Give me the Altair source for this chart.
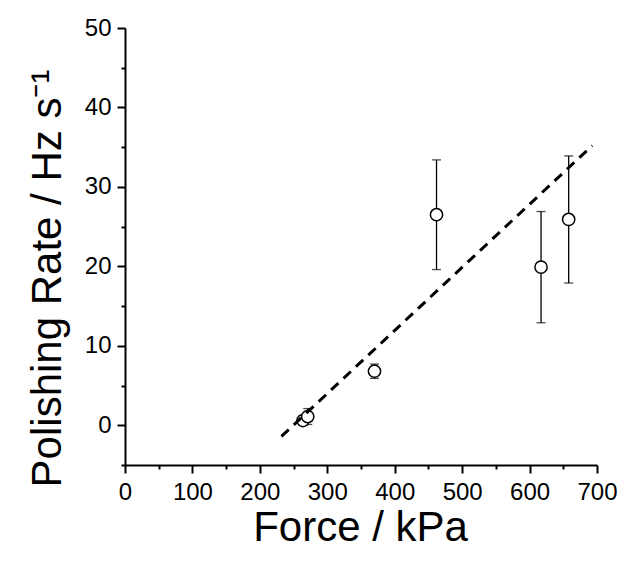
import altair as alt
import pandas as pd

# data
force = [264, 271, 370, 462, 617, 658]
rate = [0.6, 1.1, 6.8, 26.5, 19.9, 25.9]
err = [0.6, 1.0, 0.9, 6.9, 7.0, 8.0]

fit_x = [232, 693]
fit_y = [-1.4, 35.2]

x_major = [0, 100, 200, 300, 400, 500, 600, 700]
x_minor = [50, 150, 250, 350, 450, 550, 650]
y_major = [0, 10, 20, 30, 40, 50]
y_minor = [-5, 5, 15, 25, 35, 45]

df = pd.DataFrame({"force": force, "rate": rate, "err": err})
df["lo"] = df["rate"] - df["err"]
df["hi"] = df["rate"] + df["err"]
fit = pd.DataFrame({"x": fit_x, "y": fit_y})

FONT = "Liberation Sans"
xs = alt.Scale(domain=[0, 700], nice=False, zero=False)
ys = alt.Scale(domain=[-5, 50], nice=False, zero=False)

x_axis = alt.Axis(values=x_major, orient="bottom", title="Force / kPa", grid=False,
                  domainColor="black", domainWidth=2, tickColor="black", tickWidth=2,
                  tickSize=8, labelFont=FONT, labelFontSize=24, labelColor="black",
                  labelPadding=7, labelFlush=False, labelOverlap=False,
                  titleFont=FONT, titleFontSize=42, titleFontWeight="normal", titleColor="black",
                  titleX=235, titleY=84, titleBaseline="bottom", titleAlign="center")
y_axis = alt.Axis(values=y_major, orient="left", title="Polishing Rate / Hz s\u207b\u00b9", grid=False,
                  domainColor="black", domainWidth=2, tickColor="black", tickWidth=2,
                  tickSize=8, labelFont=FONT, labelFontSize=24, labelColor="black",
                  labelPadding=6, labelFlush=False, labelOverlap=False,
                  titleFont=FONT, titleFontSize=42, titleFontWeight="normal", titleColor="black",
                  titleX=-65, titleY=250, titleAngle=270, titleBaseline="alphabetic", titleAlign="center")

x_minor_axis = alt.Axis(values=x_minor, orient="bottom", title=None, labels=False, domain=False,
                        grid=False, tickColor="black", tickWidth=2, tickSize=4)
y_minor_axis = alt.Axis(values=y_minor, orient="left", title=None, labels=False, domain=False,
                        grid=False, tickColor="black", tickWidth=2, tickSize=4)

minor = alt.Chart(df).mark_point(opacity=0).encode(
    x=alt.X("force:Q", scale=xs, axis=x_minor_axis),
    y=alt.Y("rate:Q", scale=ys, axis=y_minor_axis),
)

bars = alt.Chart(df).mark_rule(color="black", strokeWidth=1.3).encode(
    x=alt.X("force:Q", scale=xs, axis=x_axis),
    y=alt.Y("lo:Q", scale=ys, axis=y_axis),
    y2="hi:Q",
)
cap_lo = alt.Chart(df).mark_tick(color="black", orient="horizontal", size=9, thickness=1.3).encode(
    x=alt.X("force:Q", scale=xs, axis=None), y=alt.Y("lo:Q", scale=ys, axis=None))
cap_hi = alt.Chart(df).mark_tick(color="black", orient="horizontal", size=9, thickness=1.3).encode(
    x=alt.X("force:Q", scale=xs, axis=None), y=alt.Y("hi:Q", scale=ys, axis=None))

points = alt.Chart(df).mark_point(shape="circle", filled=False, fill="white", fillOpacity=1,
                                  stroke="black", strokeWidth=1.5, size=150, opacity=1).encode(
    x=alt.X("force:Q", scale=xs, axis=None), y=alt.Y("rate:Q", scale=ys, axis=None))

line = alt.Chart(fit).mark_line(color="black", strokeWidth=3, strokeDash=[10, 7]).encode(
    x=alt.X("x:Q", scale=xs, axis=None), y=alt.Y("y:Q", scale=ys, axis=None))

chart = alt.layer(bars, cap_lo, cap_hi, points, line, minor).resolve_axis(
    x="independent", y="independent"
).properties(
    width=472, height=437,
    padding={"left": 117, "top": 20, "right": 20, "bottom": 84},
    autosize=alt.AutoSizeParams(type="none"),
    background="white",
).configure_view(strokeWidth=0)

chart.save("out.html", embed_options={"renderer": "svg", "actions": False})
